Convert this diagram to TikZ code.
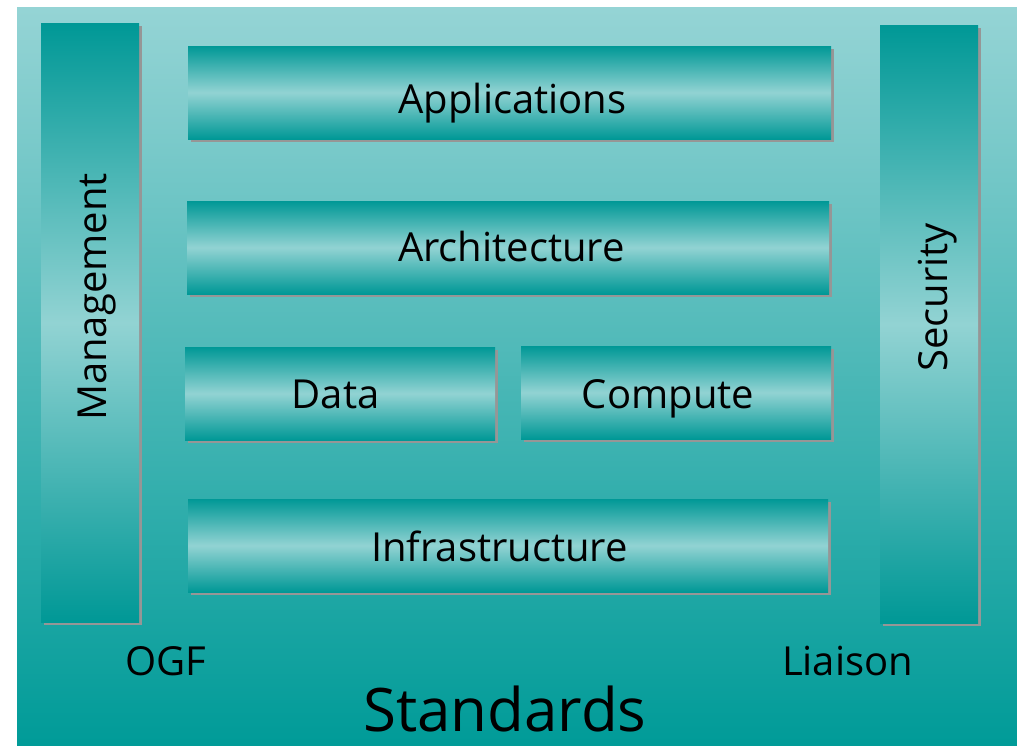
\documentclass[tikz,border=0pt]{standalone}
\usepackage{fontspec}
\setmainfont{Open Sans}
\usetikzlibrary{shadows}
\definecolor{tealdark}{RGB}{0,152,150}
\definecolor{teallight}{RGB}{146,211,211}
\definecolor{bgtop}{RGB}{149,212,213}
\definecolor{bgbottom}{RGB}{0,155,152}
\definecolor{shadowgray}{RGB}{150,150,150}
\begin{document}
\begin{tikzpicture}[x=1pt,y=-1pt,
  layer/.style={draw=none, inner sep=0pt, outer sep=0pt,
    top color=tealdark, bottom color=tealdark, middle color=teallight,
    drop shadow={shadow xshift=3pt, shadow yshift=-3pt, fill=shadowgray, opacity=1}},
  lbl/.style={inner sep=0pt, outer sep=0pt, text=black, font=\fontsize{40}{48}\selectfont},
  biglbl/.style={lbl, font=\fontsize{60}{72}\selectfont}]
\useasboundingbox (0,0) rectangle (1017,745);
\fill[white] (0,0) rectangle (1017,745);
% backdrop panel
\shade[top color=bgtop, bottom color=bgbottom] (17,7) rectangle (1017,745);

% side bars
\node[layer, minimum width=98pt, minimum height=599pt] (mgmt) at (90,322.5) {};
\node[layer, minimum width=98pt, minimum height=598pt] (sec) at (929,324) {};

% stacked layers
\node[layer, minimum width=643pt, minimum height=93pt] (apps) at (509.5,92.5) {};
\node[layer, minimum width=642pt, minimum height=93pt] (arch) at (508,247.5) {};
\node[layer, minimum width=310pt, minimum height=93pt] (data) at (340,393.5) {};
\node[layer, minimum width=310pt, minimum height=93pt] (comp) at (676,392.5) {};
\node[layer, minimum width=640pt, minimum height=93pt] (infra) at (508,545.5) {};

% labels
\node[lbl, anchor=base] (appsT) at (512.5,113) {Applications};
\node[lbl, anchor=base] (archT) at (511.5,261) {Architecture};
\node[lbl, anchor=base] (dataT) at (335.5,408) {Data};
\node[lbl, anchor=base] (compT) at (668,408) {Compute};
\node[lbl, anchor=base] (infraT) at (499.5,561) {Infrastructure};
\node[lbl, rotate=90, anchor=base] (mgmtT) at (106,297) {Management};
\node[lbl, rotate=90, anchor=base] (secT) at (947,297.5) {Security};
\node[lbl, anchor=base west] (ogfT) at (125,675) {OGF};
\node[lbl, anchor=base west] (liaisonT) at (782,675) {Liaison};
\node[biglbl, anchor=base] (stdT) at (505,731) {Standards};
\end{tikzpicture}
\end{document}
